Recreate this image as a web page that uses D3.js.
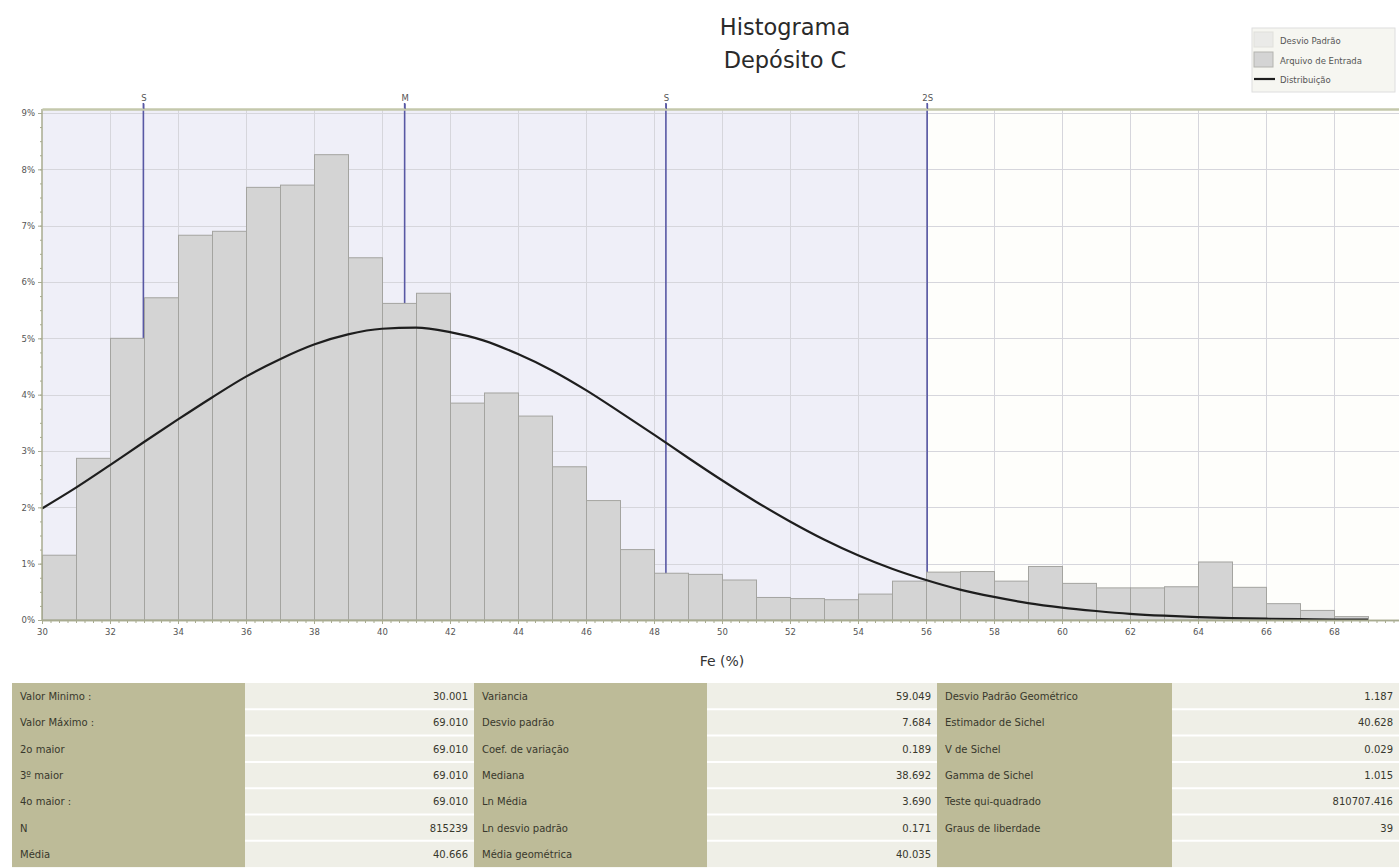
<!DOCTYPE html>
<html>
<head>
<meta charset="utf-8">
<script src="https://cdn.jsdelivr.net/npm/d3@7"></script>
<style>
  html, body { margin: 0; padding: 0; background: #ffffff; }
  svg { display: block; }
  text { font-family: "DejaVu Sans", Verdana, sans-serif; }
</style>
</head>
<body>
<svg id="chart" width="1399" height="868"></svg>
<script>
// Histogram bins of Fe (%), width 1, percentage of samples per bin
const binStarts = [30, 31, 32, 33, 34, 35, 36, 37, 38, 39, 40, 41, 42, 43, 44, 45, 46, 47, 48, 49,
                   50, 51, 52, 53, 54, 55, 56, 57, 58, 59, 60, 61, 62, 63, 64, 65, 66, 67, 68];
const binPercent = [1.15, 2.87, 5.00, 5.72, 6.83, 6.90, 7.68, 7.72, 8.26, 6.43, 5.62, 5.80, 3.85, 4.03, 3.62, 2.72, 2.12, 1.25, 0.83, 0.81,
                    0.71, 0.40, 0.38, 0.36, 0.46, 0.69, 0.85, 0.86, 0.69, 0.95, 0.65, 0.57, 0.57, 0.59, 1.03, 0.58, 0.29, 0.17, 0.06];

// Fitted distribution curve (Distribuição), sampled at each Fe value
const curveFe = [30, 31, 32, 33, 34, 35, 36, 37, 38, 39, 40, 41, 42, 43, 44, 45, 46, 47, 48, 49,
                 50, 51, 52, 53, 54, 55, 56, 57, 58, 59, 60, 61, 62, 63, 64, 65, 66, 67, 68, 69];
const curvePercent = [1.98, 2.35, 2.75, 3.16, 3.56, 3.95, 4.32, 4.63, 4.89, 5.07, 5.17, 5.19, 5.11, 4.96, 4.72, 4.43, 4.08, 3.69, 3.29, 2.88,
                      2.48, 2.10, 1.75, 1.43, 1.15, 0.91, 0.71, 0.54, 0.41, 0.30, 0.22, 0.16, 0.11, 0.076, 0.052, 0.035, 0.023, 0.015, 0.009, 0.006];

// Reference lines on the top axis
const markerLabels = ["S", "M", "S", "2S"];
const markerValues = [32.982, 40.666, 48.350, 56.034];

// Axis ticks
const xTickValues = [30, 32, 34, 36, 38, 40, 42, 44, 46, 48, 50, 52, 54, 56, 58, 60, 62, 64, 66, 68];
const yTickValues = [0, 1, 2, 3, 4, 5, 6, 7, 8, 9];

// Legend
const legendLabels = ["Desvio Padrão", "Arquivo de Entrada", "Distribuição"];

// Statistics table (three label/value column pairs)
const statLabels1 = ["Valor Minimo :", "Valor Máximo :", "2o maior", "3º maior", "4o maior :", "N", "Média"];
const statValues1 = ["30.001", "69.010", "69.010", "69.010", "69.010", "815239", "40.666"];
const statLabels2 = ["Variancia", "Desvio padrão", "Coef. de variação", "Mediana", "Ln Média", "Ln desvio padrão", "Média geométrica"];
const statValues2 = ["59.049", "7.684", "0.189", "38.692", "3.690", "0.171", "40.035"];
const statLabels3 = ["Desvio Padrão Geométrico", "Estimador de Sichel", "V de Sichel", "Gamma de Sichel", "Teste qui-quadrado", "Graus de liberdade", ""];
const statValues3 = ["1.187", "40.628", "0.029", "1.015", "810707.416", "39", ""];

const svg = d3.select("#chart");

const plotTop = 109, plotBottom = 620, plotLeft = 42, plotRight = 1399;
const x = d3.scaleLinear().domain([30, 70]).range([plotLeft, 1402]);
const y = d3.scaleLinear().domain([0, 9]).range([plotBottom, 113]);

// Title
const title = svg.append("g").attr("fill", "#2a2a2a").attr("font-size", 22.5).attr("text-anchor", "middle");
title.append("text").attr("x", 785).attr("y", 35).text("Histograma");
title.append("text").attr("x", 785).attr("y", 68).text("Depósito C");

// Plot background: shaded band up to +2S, plain beyond
const band = markerValues[3];
svg.append("rect").attr("x", plotLeft).attr("y", plotTop)
  .attr("width", x(band) - plotLeft).attr("height", plotBottom - plotTop).attr("fill", "#efeff8");
svg.append("rect").attr("x", x(band)).attr("y", plotTop)
  .attr("width", plotRight - x(band)).attr("height", plotBottom - plotTop).attr("fill", "#fefefb");

// Grid
const grid = svg.append("g").attr("stroke", "#d6d6dc").attr("stroke-width", 1);
grid.selectAll("line.v").data(xTickValues.slice(1)).join("line")
  .attr("x1", d => x(d) + 0.5).attr("x2", d => x(d) + 0.5)
  .attr("y1", plotTop).attr("y2", plotBottom);
grid.selectAll("line.h").data(yTickValues.slice(1)).join("line")
  .attr("x1", plotLeft).attr("x2", plotRight)
  .attr("y1", d => Math.round(y(d)) + 0.5).attr("y2", d => Math.round(y(d)) + 0.5);

// Reference lines (behind the bars)
svg.append("g").selectAll("line").data(markerValues).join("line")
  .attr("x1", d => x(d)).attr("x2", d => x(d))
  .attr("y1", 103).attr("y2", plotBottom)
  .attr("stroke", "#5858a4").attr("stroke-width", 1.6);

// Histogram bars
svg.append("g").selectAll("rect").data(binStarts).join("rect")
  .attr("x", d => x(d) + 0.5)
  .attr("y", (d, i) => y(binPercent[i]))
  .attr("width", d => x(d + 1) - x(d))
  .attr("height", (d, i) => plotBottom - y(binPercent[i]))
  .attr("fill", "#d4d4d4").attr("stroke", "#a4a4a0").attr("stroke-width", 1);

// Distribution curve
const line = d3.line().x(d => x(d[0])).y(d => y(d[1])).curve(d3.curveMonotoneX);
svg.append("path")
  .datum(curveFe.map((f, i) => [f, curvePercent[i]]))
  .attr("d", line)
  .attr("fill", "none").attr("stroke", "#1e1e1e").attr("stroke-width", 2.2);

// Axes
const axisColor = "#a8ab90";
function styleAxis(g, fontSize) {
  g.select(".domain").attr("stroke", axisColor).attr("stroke-width", 1.5);
  g.selectAll(".tick line").attr("stroke", axisColor);
  g.selectAll(".tick text").attr("fill", "#555").attr("font-size", fontSize)
    .attr("font-family", "DejaVu Sans, sans-serif");
}

// bottom: minor then major
svg.append("g").attr("transform", `translate(0,${plotBottom})`)
  .call(d3.axisBottom(x).tickValues(d3.range(30, 70.01, 0.25)).tickSize(3).tickFormat("").tickSizeOuter(0))
  .call(g => styleAxis(g, 9));
svg.append("g").attr("transform", `translate(0,${plotBottom})`)
  .call(d3.axisBottom(x).tickValues(xTickValues).tickSize(4).tickFormat(d3.format("d")).tickSizeOuter(0))
  .call(g => styleAxis(g, 8.5))
  .call(g => g.selectAll(".tick text").attr("dy", "0.9em"));

// left: minor then major
svg.append("g").attr("transform", `translate(${plotLeft},0)`)
  .call(d3.axisLeft(y).tickValues(d3.range(0, 9.01, 0.25)).tickSize(2).tickFormat("").tickSizeOuter(0))
  .call(g => styleAxis(g, 9))
  .call(g => g.select(".domain").attr("d", `M0,${plotTop}V${plotBottom}`));
svg.append("g").attr("transform", `translate(${plotLeft},0)`)
  .call(d3.axisLeft(y).tickValues(yTickValues).tickSize(4).tickFormat(d => d + "%").tickSizeOuter(0))
  .call(g => styleAxis(g, 8.5))
  .call(g => g.select(".domain").remove());

// top axis with reference labels
svg.append("g").attr("transform", `translate(0,${plotTop})`)
  .call(d3.axisTop(x).tickValues(markerValues).tickSize(5)
        .tickFormat((d, i) => markerLabels[i]).tickSizeOuter(0))
  .call(g => styleAxis(g, 8.5))
  .call(g => g.select(".domain").attr("stroke", "#c4c8ac").attr("stroke-width", 2.5))
  .call(g => g.selectAll(".tick line").attr("stroke", "#5858a4"));

// x axis title
svg.append("text").attr("x", 722).attr("y", 666).attr("text-anchor", "middle")
  .attr("font-size", 14).attr("fill", "#333").text("Fe (%)");

// Legend
const legend = svg.append("g");
legend.append("rect").attr("x", 1252).attr("y", 28).attr("width", 143).attr("height", 64)
  .attr("fill", "#f6f6f1").attr("stroke", "#dedede");
const legendY = [40, 60, 79];
legend.append("rect").attr("x", 1254).attr("y", legendY[0] - 8).attr("width", 19).attr("height", 15)
  .attr("fill", "#eaeae8").attr("stroke", "#e0e0dc");
legend.append("rect").attr("x", 1254).attr("y", legendY[1] - 8).attr("width", 19).attr("height", 15)
  .attr("fill", "#d4d4d4").attr("stroke", "#b4b4b0");
legend.append("line").attr("x1", 1254).attr("x2", 1275).attr("y1", legendY[2]).attr("y2", legendY[2])
  .attr("stroke", "#1e1e1e").attr("stroke-width", 2.2);
legend.selectAll("text").data(legendLabels).join("text")
  .attr("x", 1280).attr("y", (d, i) => legendY[i] + 3.5)
  .attr("font-size", 8.5).attr("fill", "#555").text(d => d);

// Statistics table
const colEdges = [12, 245, 474, 707, 937, 1172, 1399];
const rowTop = 683, rowH = 26.3, nRows = 7;
const columns = [statLabels1, statValues1, statLabels2, statValues2, statLabels3, statValues3];
const table = svg.append("g");
columns.forEach((col, c) => {
  const isLabel = c % 2 === 0;
  const x0 = colEdges[c], x1 = colEdges[c + 1];
  table.append("rect").attr("x", x0).attr("y", rowTop)
    .attr("width", x1 - x0).attr("height", rowH * nRows)
    .attr("fill", isLabel ? "#bdbb98" : "#efefe7");
  if (!isLabel) {
    table.append("g").selectAll("line").data(d3.range(1, nRows)).join("line")
      .attr("x1", x0).attr("x2", x1)
      .attr("y1", r => rowTop + r * rowH).attr("y2", r => rowTop + r * rowH)
      .attr("stroke", "#ffffff").attr("stroke-width", 2);
  }
  table.append("g").selectAll("text").data(col).join("text")
    .attr("x", isLabel ? x0 + 8 : x1 - 6)
    .attr("y", (d, r) => rowTop + r * rowH + 17)
    .attr("text-anchor", isLabel ? "start" : "end")
    .attr("font-size", 10).attr("fill", "#38382c")
    .text(d => d);
});
</script>
</body>
</html>
